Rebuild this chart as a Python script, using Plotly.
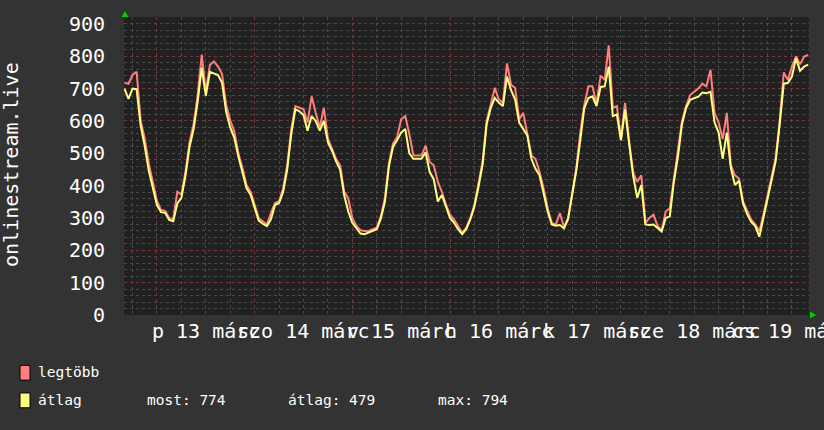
import plotly.graph_objects as go
import pandas as pd

# ---------------- data ----------------
start_time = "2020-03-12 16:00"   # hourly samples

max_values = [
    718, 715, 742, 752, 600, 545, 468, 412,
    352, 325, 322, 300, 296, 381, 372, 442, 534, 590, 680, 805, 690, 773, 784, 768, 745, 650, 602, 568, 500, 455, 402, 381,
    341, 300, 290, 280, 315, 346, 352, 391, 463, 574, 646, 641, 636, 595, 676, 625, 580, 641, 545, 514, 483, 463, 381, 361,
    300, 275, 262, 260, 260, 265, 270, 305, 361, 470, 530, 550, 605, 615, 560, 493, 493, 493, 524, 473, 463, 412, 381, 341,
    310, 295, 275, 254, 270, 300, 341, 402, 473, 600, 650, 702, 666, 656, 778, 712, 702, 605, 625, 564, 493, 483, 442, 391,
    330, 285, 280, 315, 272, 300, 371, 452, 564, 650, 707, 707, 651, 740, 727, 834, 640, 646, 544, 656, 540, 440, 412, 432,
    285, 300, 310, 275, 262, 320, 330, 420, 500, 600, 646, 680, 690, 700, 715, 707, 758, 625, 595, 544, 625, 463, 432, 422,
    351, 320, 295, 280, 259, 310, 370, 430, 485, 600, 750, 727, 768, 800, 775, 799, 804,
]
avg_values = [
    700, 668, 700, 698, 585, 522, 445, 395,
    340, 318, 316, 294, 290, 345, 362, 430, 520, 575, 660, 765, 678, 752, 748, 742, 718, 628, 580, 548, 490, 440, 392, 372,
    330, 292, 282, 275, 296, 340, 346, 380, 450, 560, 636, 630, 618, 570, 615, 600, 570, 600, 534, 508, 475, 450, 370, 320,
    285, 268, 252, 250, 255, 260, 265, 298, 350, 460, 520, 540, 564, 575, 500, 483, 483, 483, 503, 442, 420, 351, 371, 335,
    300, 285, 265, 250, 266, 296, 336, 396, 465, 590, 640, 671, 656, 646, 737, 695, 666, 595, 575, 555, 483, 452, 432, 380,
    320, 280, 276, 278, 268, 296, 365, 445, 540, 640, 671, 676, 646, 705, 707, 768, 615, 620, 540, 636, 530, 430, 362, 402,
    280, 278, 280, 270, 258, 300, 305, 412, 490, 590, 640, 665, 671, 675, 688, 686, 690, 595, 564, 483, 564, 455, 402, 415,
    345, 312, 288, 275, 242, 300, 362, 420, 475, 590, 715, 717, 737, 794, 755, 768, 774,
]

day_label_times = ["2020-03-13 12:00", "2020-03-14 12:00", "2020-03-15 12:00", "2020-03-16 12:00",
                   "2020-03-17 12:00", "2020-03-18 12:00", "2020-03-19 12:00"]
day_label_texts = ["p 13 márc", "szo 14 márc", "v 15 márc", "h 16 márc",
                   "k 17 márc", "sze 18 márc", "cs 19 márc"]

y_tick_vals = [0, 100, 200, 300, 400, 500, 600, 700, 800, 900]

series_names = ["legtöbb", "átlag"]
stat_texts = ["most: 774", "átlag: 479", "max: 794"]
y_title = "onlinestream.live"

times = pd.date_range(start_time, periods=len(avg_values), freq="h")

# ---------------- figure ----------------
W, H = 824, 430
L, R, T, B = 124, 15, 13, 115
pw, ph = W - L - R, H - T - B

def px(x):
    return (x - L) / pw

def py(y):
    return (H - B - y) / ph

FONT = "DejaVu Sans Mono"
PINK = "#ff7f7f"
YELLOW = "#ffff7f"

fig = go.Figure()
fig.add_trace(go.Scatter(x=times, y=max_values, mode="lines", name=series_names[0],
                         line=dict(color=PINK, width=2), hoverinfo="skip"))
fig.add_trace(go.Scatter(x=times, y=avg_values, mode="lines", name=series_names[1],
                         line=dict(color=YELLOW, width=2), hoverinfo="skip"))

annotations = []
for t, txt in zip(day_label_times, day_label_texts):
    annotations.append(dict(x=t, xref="x", y=py(331), yref="paper", text=txt,
                            showarrow=False, xanchor="center", yanchor="middle",
                            font=dict(family=FONT, size=20, color="#ffffff")))
annotations.append(dict(x=px(11), xref="paper", y=py(163), yref="paper", text=y_title,
                        textangle=-90, showarrow=False, xanchor="center", yanchor="middle",
                        font=dict(family=FONT, size=20, color="#ffffff")))
# legend texts
leg_font = dict(family=FONT, size=14.5, color="#ffffff")
annotations.append(dict(x=px(36), xref="paper", y=py(373), yref="paper", text=series_names[0],
                        showarrow=False, xanchor="left", yanchor="middle", font=leg_font))
annotations.append(dict(x=px(36), xref="paper", y=py(401), yref="paper", text=series_names[1],
                        showarrow=False, xanchor="left", yanchor="middle", font=leg_font))
for xpos, txt in zip([145, 286, 436], stat_texts):
    annotations.append(dict(x=px(xpos), xref="paper", y=py(401), yref="paper", text=txt,
                            showarrow=False, xanchor="left", yanchor="middle", font=leg_font))

shapes = [
    dict(type="rect", xref="paper", yref="paper", x0=px(20), x1=px(30), y0=py(381), y1=py(366),
         fillcolor=PINK, line=dict(color="#000000", width=1)),
    dict(type="rect", xref="paper", yref="paper", x0=px(20), x1=px(30), y0=py(409), y1=py(394),
         fillcolor=YELLOW, line=dict(color="#000000", width=1)),
    dict(type="path", xref="paper", yref="paper",
         path=f"M {px(125)},{py(7)} L {px(121.5)},{py(13)} L {px(128.5)},{py(13)} Z",
         fillcolor="#00cc00", line=dict(color="#00cc00", width=0)),
    dict(type="path", xref="paper", yref="paper",
         path=f"M {px(816)},{py(315)} L {px(810)},{py(311.5)} L {px(810)},{py(318.5)} Z",
         fillcolor="#00cc00", line=dict(color="#00cc00", width=0)),
]

fig.update_layout(
    width=W, height=H,
    margin=dict(l=L, r=R, t=T, b=B, pad=0),
    paper_bgcolor="#333333", plot_bgcolor="#212121",
    showlegend=False,
    annotations=annotations, shapes=shapes,
    hovermode=False,
)
fig.update_xaxes(
    type="date",
    range=["2020-03-12 15:54", "2020-03-19 16:12"],
    tick0="2020-03-13", dtick=86400000,
    showticklabels=False, ticks="",
    showgrid=True, gridcolor="#743838", griddash="dot", gridwidth=1,
    minor=dict(dtick=6 * 3600000, showgrid=True, gridcolor="#4a4a4a", griddash="dot", gridwidth=1),
    zeroline=False, showline=False,
)
fig.update_yaxes(
    range=[0, 900 * (H - B - T) / (H - B - 20)],
    tickvals=y_tick_vals,
    ticks="outside", ticklen=14, tickcolor="rgba(0,0,0,0)",
    tickfont=dict(family=FONT, size=20, color="#ffffff"),
    showgrid=True, gridcolor="#743838", griddash="dot", gridwidth=1,
    minor=dict(dtick=20, showgrid=True, gridcolor="#4a4a4a", griddash="dot", gridwidth=1),
    zeroline=False, showline=False,
)

fig.write_html(
    "out.html",
    config={"displayModeBar": False},
    post_script="document.body.style.margin='0';document.body.style.background='#333333';",
)
